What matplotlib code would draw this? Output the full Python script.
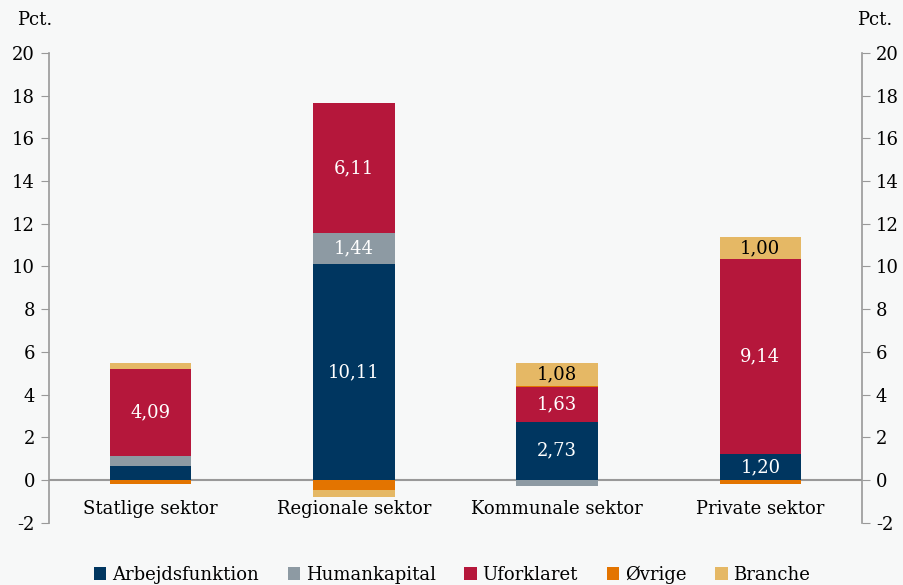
import matplotlib.pyplot as plt
import numpy as np

plt.rcParams['font.family'] = ['DejaVu Serif']
plt.rcParams['axes.unicode_minus'] = False

categories = ["Statlige sektor", "Regionale sektor", "Kommunale sektor", "Private sektor"]
series_names = ["Arbejdsfunktion", "Humankapital", "Uforklaret", "\u00d8vrige", "Branche"]
arbejdsfunktion = [0.65, 10.11, 2.73, 1.20]
humankapital = [0.47, 1.44, -0.30, 0.02]
uforklaret = [4.09, 6.11, 1.63, 9.14]
oevrige = [-0.20, -0.45, 0.05, -0.20]
branche = [0.28, -0.33, 1.08, 1.00]

colors = ["#003660", "#8d9aa3", "#b5173b", "#e37400", "#e5b865"]
label_colors = ["white", "white", "white", "white", "black"]
bg = "#f7f8f8"

fig = plt.figure(figsize=(9.04, 5.85), dpi=100, facecolor=bg)
ax = fig.add_axes([0.0542, 0.1065, 0.8993, 0.8029], facecolor=bg)

x = np.arange(len(categories)) + 0.5
pos_base = np.zeros(len(categories))
neg_base = np.zeros(len(categories))
all_series = [arbejdsfunktion, humankapital, uforklaret, oevrige, branche]
for name, vals, col, lc in zip(series_names, all_series, colors, label_colors):
    vals = np.array(vals)
    bottoms = np.where(vals >= 0, pos_base, neg_base)
    ax.bar(x, vals, width=0.4, bottom=bottoms, color=col, label=name, zorder=2)
    for xi, v, b in zip(x, vals, bottoms):
        if abs(v) >= 0.95:
            ax.text(xi, b + v / 2, f"{v:.2f}".replace(".", ","), ha="center", va="center",
                    color=lc, fontsize=13, zorder=3)
    pos_base = pos_base + np.where(vals >= 0, vals, 0)
    neg_base = neg_base + np.where(vals < 0, vals, 0)

ax.axhline(0, color="#999999", linewidth=1.5, zorder=1)

for xi, c in zip(x, categories):
    ax.text(xi, -1.35, c, ha="center", va="center", fontsize=13)

ax.set_xlim(0, 4)
ax.set_ylim(-2, 20)
ax.set_yticks(range(-2, 21, 2))
ax.set_xticks([])
for s in ["top", "bottom"]:
    ax.spines[s].set_visible(False)
for s in ["left", "right"]:
    ax.spines[s].set_color("#999999")
    ax.spines[s].set_linewidth(1.2)
ax.tick_params(axis="y", which="both", left=True, right=True, labelleft=True, labelright=True,
               direction="out", length=6, color="#999999", labelsize=13, pad=4)

fig.text(0.038, 0.965, "Pct.", ha="center", va="center", fontsize=13)
fig.text(0.968, 0.965, "Pct.", ha="center", va="center", fontsize=13)

fig.legend(loc="center", bbox_to_anchor=(0.5, 0.018), ncol=5, frameon=False, fontsize=13,
           handlelength=0.7, handleheight=0.7, handletextpad=0.3, columnspacing=1.6)

fig.savefig("out.png", dpi=100, facecolor=bg)
